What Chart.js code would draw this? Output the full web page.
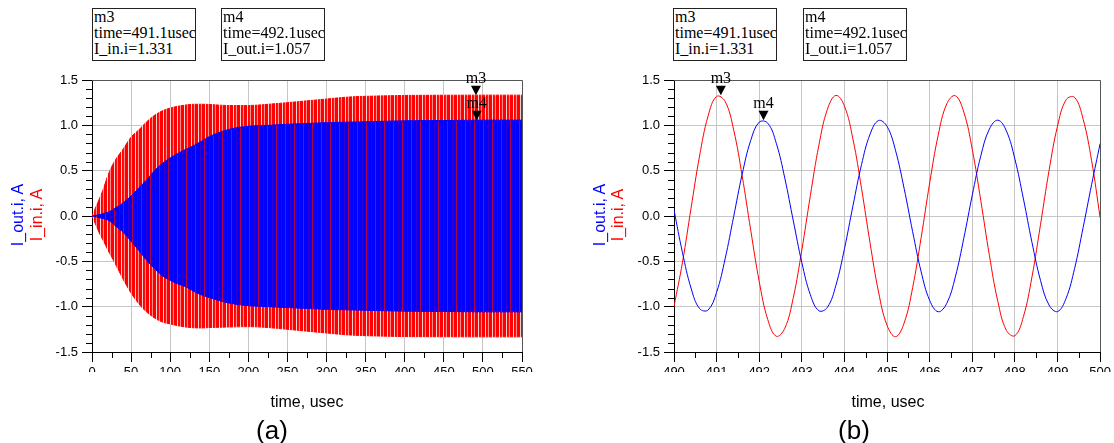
<!DOCTYPE html>
<html><head><meta charset="utf-8">
<script src="https://cdn.jsdelivr.net/npm/chart.js@4.4.1/dist/chart.umd.min.js"></script>
<style>
body{margin:0;background:#fff;}
#wrap{position:relative;width:1114px;height:443px;overflow:hidden;background:#fff;}
canvas{position:absolute;top:0;}
.box{position:absolute;border:1px solid #222;overflow:hidden;white-space:nowrap;font:16px "Liberation Serif","Times New Roman",serif;line-height:16px;padding:0 0 0 1px;box-sizing:border-box;color:#000;background:#fff;}
.ytitle{position:absolute;transform:translate(-50%,-50%) rotate(-90deg);white-space:nowrap;font:16px "Liberation Sans",Arial,sans-serif;}
.xtitle{position:absolute;transform:translate(-50%,-50%);white-space:nowrap;font:16px "Liberation Sans",Arial,sans-serif;color:#000;}
.sub{position:absolute;transform:translate(-50%,-50%);white-space:nowrap;font:26px "Liberation Sans",Arial,sans-serif;color:#000;}
</style></head>
<body>
<div id="wrap">
<canvas id="cA" width="557" height="443" style="left:0;width:557px;height:443px"></canvas>
<canvas id="cB" width="557" height="443" style="left:557px;width:557px;height:443px"></canvas>
</div>
<script>
// ---------- DATA ----------
// (a) envelope of the transient
const envTime  = [0,5,10,15,20,25,30,40,50,60,70,80,90,100,110,120,130,140,150,175,200,225,250,275,300,325,350,375,400,450,500,550];
const inUpper  = [0,0.10,0.20,0.31,0.44,0.54,0.62,0.74,0.87,0.95,1.04,1.11,1.16,1.19,1.21,1.225,1.232,1.233,1.23,1.218,1.218,1.232,1.25,1.27,1.29,1.31,1.32,1.325,1.33,1.332,1.333,1.333];
const inLower  = [0,-0.10,-0.20,-0.28,-0.37,-0.45,-0.53,-0.70,-0.85,-0.97,-1.06,-1.125,-1.17,-1.19,-1.21,-1.225,-1.233,-1.235,-1.23,-1.224,-1.22,-1.23,-1.25,-1.27,-1.29,-1.31,-1.32,-1.325,-1.33,-1.332,-1.333,-1.333];
const outUpper = [0,0.008,0.015,0.027,0.04,0.06,0.088,0.145,0.22,0.31,0.40,0.50,0.58,0.64,0.69,0.735,0.775,0.825,0.875,0.955,0.99,1.0,1.012,1.02,1.03,1.035,1.04,1.045,1.05,1.053,1.057,1.057];
const outLower = [0,-0.008,-0.02,-0.03,-0.045,-0.07,-0.11,-0.18,-0.28,-0.38,-0.49,-0.58,-0.66,-0.71,-0.75,-0.78,-0.83,-0.87,-0.9,-0.96,-0.99,-1.0,-1.01,-1.02,-1.03,-1.035,-1.04,-1.045,-1.05,-1.053,-1.057,-1.057];
// (b) zoomed steady state
const timeB = [490.0,490.2,490.4,490.6,490.8,491.0,491.2,491.4,491.6,491.8,492.0,492.2,492.4,492.6,492.8,493.0,493.2,493.4,493.6,493.8,494.0,494.2,494.4,494.6,494.8,495.0,495.2,495.4,495.6,495.8,496.0,496.2,496.4,496.6,496.8,497.0,497.2,497.4,497.6,497.8,498.0,498.2,498.4,498.6,498.8,499.0,499.2,499.4,499.6,499.8,500.0];
const inB  = [-0.998,-0.508,0.086,0.662,1.103,1.319,1.264,0.950,0.442,-0.156,-0.723,-1.142,-1.326,-1.239,-0.899,-0.374,0.226,0.781,1.177,1.330,1.212,0.846,0.306,-0.296,-0.838,-1.207,-1.331,-1.181,-0.790,-0.237,0.365,0.892,1.236,1.327,1.147,0.732,0.167,-0.432,-0.944,-1.261,-1.320,-1.109,-0.672,-0.096,0.499,0.992,1.281,1.309,1.069,0.609,-0.02];
const outB = [0.066,-0.406,-0.795,-1.021,-1.037,-0.841,-0.472,-0.006,0.461,0.833,1.035,1.024,0.803,0.417,-0.054,-0.514,-0.869,-1.045,-1.007,-0.763,-0.361,0.114,0.566,0.901,1.053,0.988,0.720,0.304,-0.173,-0.616,-0.931,-1.056,-0.964,-0.675,-0.246,0.232,0.664,0.958,1.057,0.938,0.627,0.188,-0.291,-0.709,-0.982,-1.054,-0.909,-0.579,-0.128,0.348,0.80];
// ticks
const yTicks  = [-1.5,-1.0,-0.5,0.0,0.5,1.0,1.5];
const xTicksA = [0,50,100,150,200,250,300,350,400,450,500,550];
const xTicksB = [490,491,492,493,494,495,496,497,498,499,500];
// markers
const markerNames  = ['m3','m4'];
const markerTimes  = [491.1,492.1];
const markerValues = [1.331,1.057];
const markerSeries = ['I_in.i','I_out.i'];
const axisTitles   = ['I_out.i, A','I_in.i, A'];
const xTitle = 'time, usec';
const subTitles = ['(a)','(b)'];

// ---------- helpers ----------
const FONT = '"Liberation Sans", Arial, sans-serif';
function stripe(cols){
  const c=document.createElement('canvas'); c.width=cols.length; c.height=1;
  const g=c.getContext('2d'); cols.forEach((col,i)=>{g.fillStyle=col; g.fillRect(i,0,1,1);});
  return g.createPattern(c,'repeat');
}
const redPat  = stripe(['#ff0000','#ff0000','#ffd2d2','#ff0000','#ff1010','#ff8c8c','#ff0000']);
const bluePat = stripe(['#0000ff','#0000ff','#3000d0','#0000ff','#0000ff','#0000ff','#b00050','#0000ff','#1000f0']);

const decor = {
  id:'decor',
  afterDatasetsDraw(chart,args,o){
    const {ctx, chartArea:a, scales:{x,y}} = chart;
    ctx.save();
    ctx.strokeStyle='#555'; ctx.lineWidth=1;
    ctx.beginPath(); ctx.moveTo(a.left, Math.round(a.top)+0.5); ctx.lineTo(Math.round(a.right)+0.5, Math.round(a.top)+0.5); ctx.lineTo(Math.round(a.right)+0.5, a.bottom); ctx.stroke();
    ctx.strokeStyle='#000'; ctx.beginPath();
    const yt=y.ticks.map(t=>t.value);
    for(let i=0;i<yt.length-1;i++) for(let k=1;k<o.yDiv;k++){
      const p=Math.round(y.getPixelForValue(yt[i]+(yt[i+1]-yt[i])*k/o.yDiv))+0.5;
      ctx.moveTo(a.left-6,p); ctx.lineTo(a.left,p);
    }
    const xt=x.ticks.map(t=>t.value);
    for(let i=0;i<xt.length-1;i++) for(let k=1;k<o.xDiv;k++){
      const p=Math.round(x.getPixelForValue(xt[i]+(xt[i+1]-xt[i])*k/o.xDiv))+0.5;
      ctx.moveTo(p,a.bottom); ctx.lineTo(p,a.bottom+6);
    }
    ctx.stroke();
    markerNames.forEach((n,i)=>{
      const px=x.getPixelForValue(markerTimes[i]), py=y.getPixelForValue(markerValues[i]);
      ctx.fillStyle='#000';
      ctx.beginPath(); ctx.moveTo(px,py); ctx.lineTo(px-5,py-9.5); ctx.lineTo(px+5,py-9.5); ctx.closePath(); ctx.fill();
      ctx.font='16px "Liberation Serif", "Times New Roman", serif';
      ctx.textAlign='center'; ctx.textBaseline='alphabetic';
      ctx.fillText(n,px,py-12.5);
    });
    ctx.restore();
  }
};

function scales(xmin,xmax,xt){
  const tf={family:FONT,size:13};
  return {
    x:{type:'linear',min:xmin,max:xmax,
      afterBuildTicks:s=>{s.ticks=xt.map(v=>({value:v}));},
      afterFit:s=>{s.height=20;},
      ticks:{font:tf,color:'#000',padding:3,maxRotation:0,autoSkip:false,callback:v=>String(v)},
      grid:{color:'#c6c6c6',lineWidth:1,tickLength:10,tickColor:'#000'},
      border:{color:'#000',width:1}},
    y:{type:'linear',min:-1.5,max:1.5,
      afterBuildTicks:s=>{s.ticks=yTicks.map(v=>({value:v}));},
      afterFit:s=>{s.width=s.chart.options.layout.yw;},
      ticks:{font:tf,color:'#000',padding:4,autoSkip:false,callback:v=>Number(v).toFixed(1)},
      grid:{color:'#c6c6c6',lineWidth:1,tickLength:10,tickColor:'#000'},
      border:{color:'#000',width:1}}
  };
}
const pts=(xs,ys)=>xs.map((v,i)=>({x:v,y:ys[i]}));

new Chart(document.getElementById('cA'),{
  type:'line',
  data:{datasets:[
    {data:pts(envTime,outUpper),borderColor:'#0000ff',borderWidth:1,backgroundColor:bluePat,fill:'+1',pointRadius:0,cubicInterpolationMode:'monotone'},
    {data:pts(envTime,outLower),borderColor:'#0000ff',borderWidth:1,fill:false,pointRadius:0,cubicInterpolationMode:'monotone'},
    {data:pts(envTime,inUpper),borderColor:redPat,borderWidth:1,backgroundColor:redPat,fill:'+1',pointRadius:0,cubicInterpolationMode:'monotone'},
    {data:pts(envTime,inLower),borderColor:redPat,borderWidth:1,fill:false,pointRadius:0,cubicInterpolationMode:'monotone'}
  ]},
  options:{responsive:false,animation:false,events:[],
    layout:{padding:{left:0,top:80,right:35,bottom:71},yw:92},
    plugins:{legend:{display:false},tooltip:{enabled:false},decor:{xDiv:2,yDiv:5}},
    scales:scales(0,550,xTicksA)},
  plugins:[decor]
});
new Chart(document.getElementById('cB'),{
  type:'line',
  data:{datasets:[
    {data:pts(timeB,outB),borderColor:'#0000ff',borderWidth:1,fill:false,pointRadius:0,tension:0.4},
    {data:pts(timeB,inB),borderColor:'#ff0000',borderWidth:1,fill:false,pointRadius:0,tension:0.4}
  ]},
  options:{responsive:false,animation:false,events:[],
    layout:{padding:{left:0,top:80,right:11,bottom:71},yw:117},
    plugins:{legend:{display:false},tooltip:{enabled:false},decor:{xDiv:2,yDiv:5}},
    scales:scales(490,500,xTicksB)},
  plugins:[decor]
});

// ---------- HTML text: marker boxes, axis titles ----------
const wrap=document.getElementById('wrap');
function add(cls,html,style){const d=document.createElement('div');d.className=cls;d.innerHTML=html;Object.assign(d.style,style);wrap.appendChild(d);return d;}
const boxLefts=[[92,221],[673,803]];
boxLefts.forEach(pair=>pair.forEach((L,i)=>{
  add('box',markerNames[i]+'<br>time='+markerTimes[i].toFixed(1)+'usec<br>'+markerSeries[i]+'='+markerValues[i].toFixed(3),
      {left:L+'px',top:'8px',width:'104px',height:'53px'});
}));
[[18,37],[600,618]].forEach(p=>{
  add('ytitle',axisTitles[0],{left:p[0]+'px',top:'215px',color:'#0000ff'});
  add('ytitle',axisTitles[1],{left:p[1]+'px',top:'215px',color:'#ff0000'});
});
[[307,272],[888,854]].forEach((p,i)=>{
  add('xtitle',xTitle,{left:p[0]+'px',top:'402px'});
  add('sub',subTitles[i],{left:p[1]+'px',top:'430px'});
});
</script>
</body></html>
